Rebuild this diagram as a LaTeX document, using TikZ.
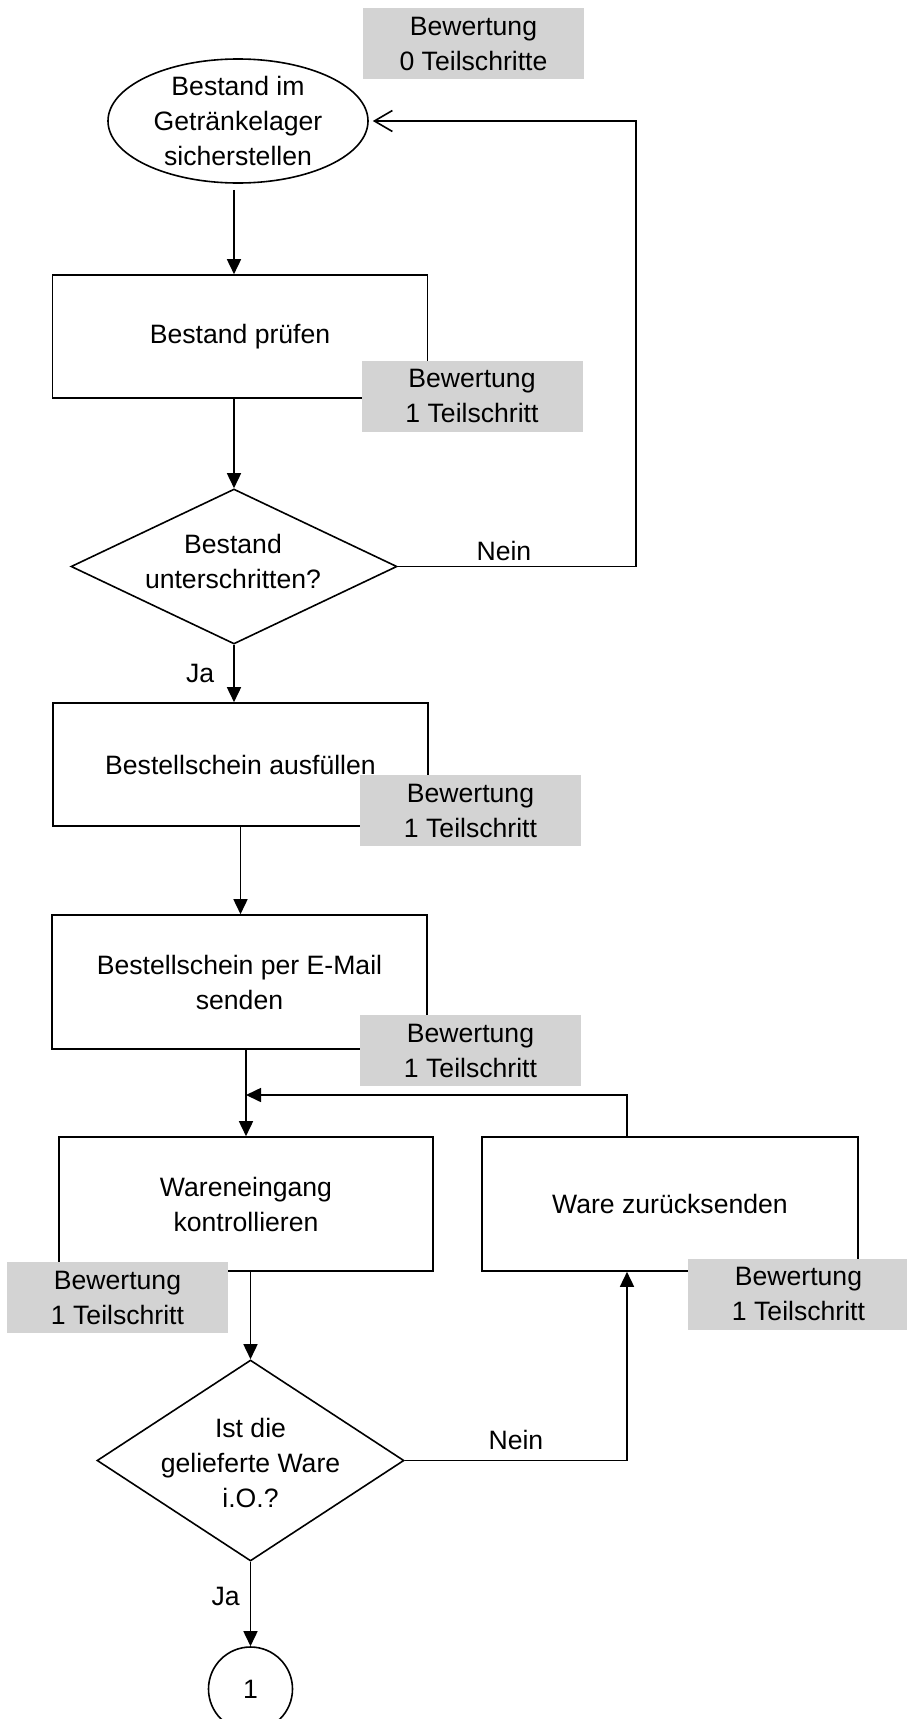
\documentclass[tikz,border=0pt]{standalone}
\usepackage{fontspec}
\setmainfont{Liberation Sans}
\usetikzlibrary{arrows.meta,shapes.geometric}
\definecolor{notegray}{RGB}{211,211,211}
\begin{document}
\begin{tikzpicture}[x=1pt,y=-1pt,
  line width=1.6pt,
  font=\fontsize{26.6}{35}\selectfont,
  proc/.style={draw, rectangle, inner sep=0pt, align=center, minimum width=375pt},
  rating/.style={fill=notegray, inner sep=0pt, align=center,
                 minimum width=221pt, minimum height=71pt},
  txt/.style={inner sep=0pt, align=center},
  arr/.style={-{Triangle[length=15pt,width=14pt]}},
  openarr/.style={-{Straight Barb[length=18pt,width=21pt]}},
  lbl/.style={inner sep=0pt}]
\useasboundingbox (0,0) rectangle (907,1719);

% start event
\node[draw, ellipse, minimum width=260pt, minimum height=124pt, inner sep=0pt] (start) at (238,121) {};
\node[txt] (startt) at (start.center) {Bestand im\\Getränkelager\\sicherstellen};

% process steps
\node[proc, minimum height=123pt] (p1) at (240,336.5) {Bestand prüfen};
\node[draw, diamond, inner sep=0pt, minimum width=326pt, minimum height=155pt] (d1) at (234,566.5) {};
\node[txt] (d1t) at (233,561.5) {Bestand\\unterschritten?};
\node[proc, minimum height=123pt] (p2) at (240.5,764.5) {Bestellschein ausfüllen};
\node[proc, minimum height=134pt] (p3) at (239.5,982) {Bestellschein per E-Mail\\senden};
\node[proc, minimum height=134pt, minimum width=374pt] (p4) at (246,1204) {Wareneingang\\kontrollieren};
\node[proc, minimum height=134pt, minimum width=376pt] (p5) at (670,1204) {Ware zurücksenden};
\node[draw, diamond, inner sep=0pt, minimum width=307pt, minimum height=201pt] (d2) at (250.5,1460.5) {};
\node[txt] (d2t) at (250.5,1463) {Ist die\\gelieferte Ware\\i.O.?};
\node[draw, circle, minimum size=84pt, inner sep=0pt] (c1) at (250.5,1689) {1};

% helper points for the loop-backs
\coordinate (rr) at (636,121);
\coordinate (j) at (246,1095);
\coordinate (rt) at ([xshift=-43pt]p5.north);
\coordinate (rb) at ([xshift=-43pt]p5.south);

% connectors
\draw[arr] ([shift={(-4,6)}]start.south) -- ([xshift=-6pt]p1.north);
\draw[arr] ([xshift=-6pt]p1.south) -- (d1.north);
\draw[arr] (d1.south) -- node[lbl, midway, left=19pt] {Ja} (d1.south |- p2.north);
\draw[openarr] (d1.east) -- node[lbl, above=5pt, xshift=-13pt] {Nein} (d1.east -| rr) -- (rr) -- ([xshift=4pt]start.east);
\draw[arr] (p2.south) -- (p2.south |- p3.north);
\draw[arr] (p4.north |- p3.south) -- (p4.north);
\draw[arr] (rt) |- (j);
\draw[arr] (d2.north |- p4.south) -- (d2.north);
\draw[arr] (d2.east) -- node[lbl, above=10pt] {Nein} (rb |- d2.east) -- (rb);
\draw[arr] (d2.south) -- node[lbl, midway, left=10pt, yshift=8pt] {Ja} (c1.north);

% rating notes
\node[rating] (r0) at (473.5,43.5) {Bewertung\\0 Teilschritte};
\node[rating] (r1) at (472,396) {Bewertung\\1 Teilschritt};
\node[rating] (r2) at (470.5,810.5) {Bewertung\\1 Teilschritt};
\node[rating] (r3) at (470.5,1050.5) {Bewertung\\1 Teilschritt};
\node[rating] (r4) at (117.5,1297.5) {Bewertung\\1 Teilschritt};
\node[rating] (r5) at (798.5,1294) {Bewertung\\1 Teilschritt};
\end{tikzpicture}
\end{document}
